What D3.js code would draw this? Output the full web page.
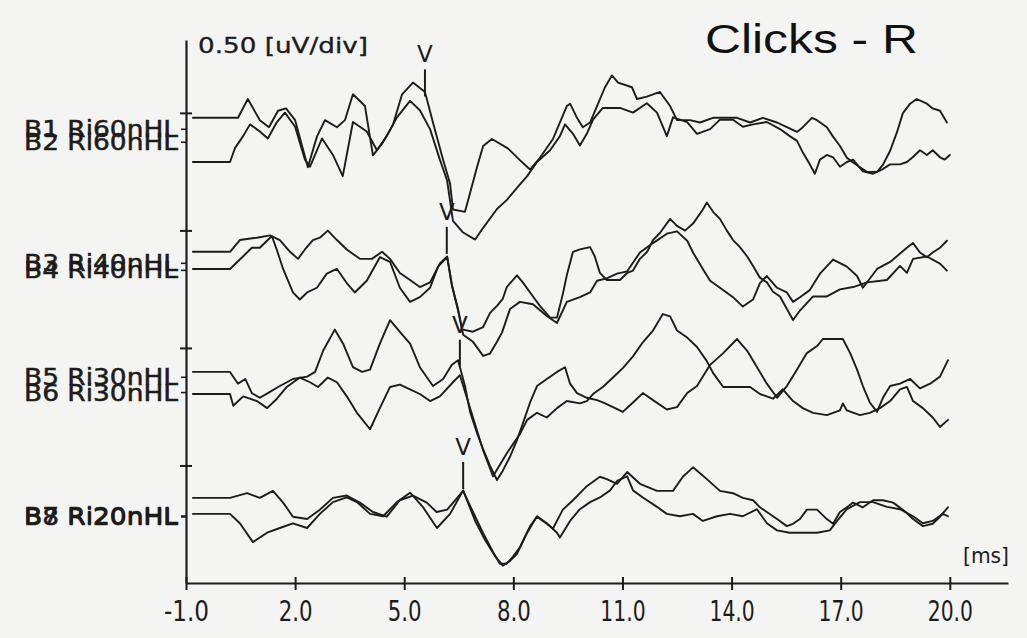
<!DOCTYPE html>
<html><head><meta charset="utf-8">
<script src="https://cdn.jsdelivr.net/npm/d3@7"></script>
<style>
html,body{margin:0;padding:0;background:#f4f4f3;}
svg{display:block;}
</style></head><body>
<svg id="chart" width="1027" height="638"></svg>
<script>
// ---------------- DATA ----------------
const traceNames = ["B1 Ri60nHL","B2 Ri60nHL","B3 Ri40nHL","B4 Ri40nHL","B5 Ri30nHL","B6 Ri30nHL","B7 Ri20nHL","B8 Ri20nHL"];
// baseline (offset) of each trace on the stacked amplitude axis, µV
const baselines = [1.979, 1.791, 1.409, 1.336, 0.898, 0.804, 0.362, 0.294];
const xTickValues = [-1, 2, 5, 8, 11, 14, 17, 20];
const xTickLabels = ["-1.0","2.0","5.0","8.0","11.0","14.0","17.0","20.0"];
const yTickValues = [0.5, 1.0, 1.5, 2.0];
const scaleLabel = "0.50 [uV/div]";
const xUnitLabel = "[ms]";
const titleText = "Clicks - R";
// wave V markers: latency (ms) and stacked amplitude (µV) at the mark
const vLabels = ["V","V","V","V"];
const vLatency = [5.57, 6.17, 6.53, 6.62];
const vAmplitude = [2.07, 1.40, 0.92, 0.40];

// traces: [time ms, amplitude µV relative to baseline]
const b1 = [[-0.81,0],[0.43,0],[0.70,0.08],[1.03,-0.01],[1.28,-0.04],[1.53,0.03],[1.75,0.04],[2.00,-0.01],[2.35,-0.21],[2.60,-0.08],[2.82,-0.01],[3.15,-0.04],[3.37,-0.01],[3.59,0.10],[3.92,0.05],[4.14,-0.16],[4.39,-0.11],[4.69,-0.03],[4.94,0.10],[5.24,0.15],[5.57,0.11],[5.79,-0.02],[6.07,-0.18],[6.26,-0.28],[6.34,-0.39],[6.67,-0.40],[6.81,-0.32],[7.00,-0.21],[7.17,-0.12],[7.41,-0.09],[7.85,-0.13],[8.18,-0.18],[8.46,-0.22],[8.73,-0.17],[9.09,-0.09],[9.47,0.05],[9.56,0.06],[9.75,0.00],[9.91,-0.04],[10.11,-0.02],[10.30,0.05],[10.52,0.13],[10.71,0.18],[10.88,0.15],[11.26,0.13],[11.40,0.08],[11.67,0.09],[12.03,0.11],[12.31,0.05],[12.50,-0.01],[12.86,-0.01],[13.13,-0.02],[13.49,0.00],[13.88,0.00],[14.15,0.00],[14.51,-0.02],[14.86,0.00],[15.25,-0.02],[15.52,-0.04],[15.80,-0.06],[15.96,-0.04],[16.21,0.00],[16.35,-0.01],[16.62,-0.04],[16.79,-0.08],[16.98,-0.12],[17.17,-0.17],[17.34,-0.19],[17.53,-0.21],[17.72,-0.23],[18.00,-0.23],[18.16,-0.20],[18.36,-0.14],[18.55,-0.06],[18.71,0.02],[18.91,0.06],[19.09,0.08],[19.37,0.06],[19.53,0.04],[19.73,0.03],[19.92,-0.02]];
const b2 = [[-0.81,0],[0.21,0],[0.35,0.06],[0.57,0.11],[0.76,0.16],[1.03,0.13],[1.25,0.10],[1.50,0.17],[1.72,0.21],[2.00,0.15],[2.27,0.01],[2.41,-0.02],[2.74,0.10],[3.04,0.03],[3.31,-0.06],[3.59,0.17],[3.97,0.13],[4.25,0.05],[4.52,0.11],[4.80,0.19],[5.16,0.26],[5.43,0.22],[5.71,0.14],[5.98,0.01],[6.18,-0.08],[6.34,-0.25],[6.62,-0.30],[6.95,-0.33],[7.17,-0.28],[7.55,-0.20],[7.83,-0.16],[8.10,-0.11],[8.38,-0.06],[8.65,0.00],[9.01,0.05],[9.28,0.11],[9.42,0.16],[9.64,0.12],[9.83,0.07],[10.02,0.12],[10.19,0.18],[10.46,0.23],[10.93,0.23],[11.29,0.21],[11.67,0.25],[11.95,0.21],[12.22,0.11],[12.39,0.19],[12.78,0.17],[13.05,0.12],[13.41,0.14],[13.68,0.18],[14.04,0.18],[14.31,0.15],[14.59,0.16],[14.97,0.17],[15.33,0.14],[15.60,0.11],[15.80,0.09],[15.96,0.04],[16.15,-0.01],[16.29,-0.05],[16.43,0.01],[16.62,0.03],[16.79,0.02],[16.98,-0.02],[17.17,0.00],[17.34,0.01],[17.61,-0.04],[17.89,-0.05],[18.16,-0.03],[18.36,-0.01],[18.63,-0.01],[18.82,0.00],[18.98,0.02],[19.18,0.05],[19.37,0.03],[19.53,0.05],[19.73,0.02],[19.86,0.01],[20.00,0.03]];
const b3 = [[-0.81,0],[0.21,0],[0.48,0.05],[0.95,0.06],[1.31,0.07],[1.58,0.05],[1.86,0.00],[2.08,-0.03],[2.27,0.01],[2.49,0.05],[2.68,0.06],[2.90,0.09],[3.15,0.05],[3.42,0.01],[3.78,-0.03],[4.11,-0.03],[4.39,0.00],[4.61,-0.03],[4.88,-0.09],[5.16,-0.12],[5.43,-0.15],[5.71,-0.13],[5.98,-0.05],[6.18,-0.02],[6.31,-0.14],[6.48,-0.25],[6.59,-0.33],[6.89,-0.34],[7.17,-0.32],[7.36,-0.26],[7.55,-0.23],[7.71,-0.20],[7.82,-0.15],[8.10,-0.10],[8.26,-0.13],[8.54,-0.19],[8.73,-0.23],[9.01,-0.28],[9.20,-0.28],[9.36,-0.18],[9.47,-0.10],[9.64,0.00],[9.83,0.01],[10.11,0.02],[10.24,-0.02],[10.38,-0.09],[10.57,-0.12],[10.93,-0.12],[11.13,-0.09],[11.29,-0.08],[11.48,-0.03],[11.68,0.00],[11.84,0.05],[12.03,0.08],[12.31,0.14],[12.50,0.11],[12.72,0.09],[12.94,0.12],[13.21,0.18],[13.32,0.21],[13.49,0.17],[13.68,0.14],[13.87,0.09],[14.04,0.05],[14.23,0.02],[14.43,-0.02],[14.59,-0.06],[14.78,-0.11],[14.97,-0.13],[15.14,-0.17],[15.33,-0.19],[15.69,-0.29],[15.88,-0.25],[16.24,-0.19],[16.62,-0.19],[16.98,-0.16],[17.34,-0.15],[17.73,-0.13],[18.27,-0.12],[18.63,-0.06],[18.82,-0.09],[18.99,-0.03],[19.37,-0.02],[19.73,-0.05],[19.92,-0.08]];
const b4 = [[-0.81,0],[0.21,0],[0.48,0.04],[0.81,0.09],[1.03,0.09],[1.36,0.14],[1.50,0.08],[1.67,0.00],[1.94,-0.10],[2.13,-0.13],[2.33,-0.10],[2.60,-0.08],[2.87,-0.02],[3.15,0.00],[3.42,-0.06],[3.64,-0.10],[3.97,-0.05],[4.33,0.05],[4.61,0.03],[4.88,-0.08],[5.16,-0.14],[5.43,-0.12],[5.71,-0.08],[5.93,0.01],[6.18,0.05],[6.31,-0.07],[6.48,-0.17],[6.62,-0.28],[6.89,-0.31],[7.17,-0.37],[7.36,-0.36],[7.55,-0.31],[7.69,-0.27],[7.91,-0.17],[8.18,-0.14],[8.54,-0.15],[8.92,-0.20],[9.20,-0.23],[9.47,-0.14],[9.83,-0.12],[10.11,-0.10],[10.30,-0.05],[10.57,-0.04],[10.85,-0.02],[11.13,-0.01],[11.48,0.07],[11.84,0.11],[12.22,0.15],[12.50,0.16],[12.78,0.12],[12.94,0.07],[13.21,0.00],[13.41,-0.05],[13.68,-0.08],[14.04,-0.12],[14.31,-0.16],[14.59,-0.13],[14.78,-0.06],[14.97,-0.03],[15.25,-0.08],[15.52,-0.10],[15.69,-0.14],[15.88,-0.12],[16.15,-0.09],[16.43,-0.02],[16.79,0.04],[17.17,0.01],[17.45,-0.03],[17.61,-0.08],[18.00,0.00],[18.36,0.03],[18.82,0.09],[18.99,0.11],[19.18,0.07],[19.37,0.05],[19.53,0.07],[19.73,0.09],[19.92,0.12]];
const b5 = [[-0.81,0],[0.21,0],[0.43,-0.05],[0.63,-0.03],[0.81,-0.09],[1.03,-0.11],[1.25,-0.09],[1.58,-0.06],[1.94,-0.03],[2.33,-0.02],[2.55,0.00],[2.77,0.09],[3.09,0.18],[3.32,0.12],[3.59,0.02],[3.84,0.00],[4.06,0.01],[4.33,0.12],[4.61,0.22],[4.88,0.17],[5.16,0.12],[5.43,0.02],[5.79,-0.06],[6.07,-0.03],[6.31,0.03],[6.48,0.05],[6.67,-0.06],[6.81,-0.17],[7.00,-0.26],[7.17,-0.33],[7.36,-0.40],[7.55,-0.46],[7.71,-0.42],[7.91,-0.36],[8.10,-0.29],[8.26,-0.22],[8.46,-0.13],[8.65,-0.06],[8.92,-0.03],[9.20,0.00],[9.42,0.02],[9.56,-0.05],[9.75,-0.09],[10.02,-0.11],[10.30,-0.12],[10.46,-0.13],[10.74,-0.15],[11.01,-0.17],[11.29,-0.13],[11.56,-0.09],[11.84,-0.12],[12.22,-0.16],[12.50,-0.15],[12.78,-0.09],[13.05,-0.06],[13.41,0.03],[13.77,0.08],[14.15,0.14],[14.43,0.09],[14.70,0.02],[14.97,-0.05],[15.25,-0.11],[15.52,-0.06],[15.80,0.01],[16.07,0.08],[16.35,0.11],[16.51,0.14],[16.79,0.14],[17.06,0.14],[17.26,0.08],[17.45,0.01],[17.61,-0.06],[17.80,-0.13],[18.00,-0.17],[18.16,-0.11],[18.36,-0.06],[18.63,-0.05],[18.91,-0.03],[19.18,-0.07],[19.46,-0.05],[19.73,-0.02],[19.95,0.05]];
const b6 = [[-0.81,0],[0.21,0],[0.30,-0.05],[0.57,-0.01],[0.95,-0.03],[1.23,-0.06],[1.50,-0.02],[1.77,0.03],[2.13,0.07],[2.41,0.05],[2.63,0.03],[2.90,0.07],[3.15,0.05],[3.42,-0.01],[3.70,-0.08],[4.06,-0.15],[4.33,-0.06],[4.61,0.03],[4.88,0.04],[5.16,0.02],[5.43,0.00],[5.71,-0.03],[5.98,-0.01],[6.34,0.05],[6.53,0.08],[6.75,-0.03],[6.95,-0.13],[7.17,-0.24],[7.44,-0.35],[7.83,-0.25],[8.18,-0.17],[8.38,-0.11],[8.65,-0.08],[8.92,-0.10],[9.20,-0.06],[9.47,-0.03],[9.83,-0.04],[10.02,-0.03],[10.19,0.00],[10.46,0.03],[10.74,0.07],[11.01,0.11],[11.29,0.16],[11.56,0.22],[11.84,0.27],[12.11,0.34],[12.31,0.33],[12.50,0.27],[12.78,0.24],[13.05,0.20],[13.32,0.14],[13.49,0.09],[13.77,0.03],[14.15,0.03],[14.51,0.03],[14.78,0.00],[15.14,-0.02],[15.41,0.02],[15.69,-0.03],[15.96,-0.06],[16.24,-0.08],[16.62,-0.09],[16.98,-0.07],[17.06,-0.04],[17.17,-0.07],[17.53,-0.09],[17.80,-0.08],[18.08,-0.06],[18.36,-0.03],[18.63,0.02],[18.82,0.03],[18.99,-0.03],[19.26,-0.06],[19.53,-0.10],[19.73,-0.14],[19.95,-0.11]];
const b7 = [[-0.81,0],[0.21,0],[0.68,0.02],[1.03,0.00],[1.39,0.03],[1.67,-0.02],[1.94,-0.08],[2.33,-0.09],[2.68,-0.05],[3.04,0.00],[3.42,0.01],[3.78,-0.02],[4.14,-0.06],[4.52,-0.08],[4.88,-0.01],[5.24,0.01],[5.62,-0.02],[5.89,-0.06],[6.18,-0.05],[6.62,0.03],[6.89,-0.06],[7.17,-0.15],[7.44,-0.23],[7.63,-0.28],[7.82,-0.28],[7.99,-0.25],[8.18,-0.21],[8.46,-0.12],[8.65,-0.08],[8.92,-0.11],[9.09,-0.13],[9.36,-0.05],[9.64,-0.01],[10.02,0.05],[10.38,0.09],[10.57,0.08],[10.85,0.06],[11.13,0.11],[11.48,0.06],[11.95,0.03],[12.39,0.03],[12.66,0.09],[12.94,0.13],[13.32,0.08],[13.68,0.03],[14.04,0.02],[14.31,0.00],[14.59,-0.01],[14.78,-0.04],[14.97,-0.06],[15.25,-0.09],[15.52,-0.12],[15.69,-0.11],[15.88,-0.09],[16.07,-0.05],[16.35,-0.05],[16.62,-0.09],[16.79,-0.11],[16.98,-0.06],[17.17,-0.04],[17.34,-0.02],[17.61,-0.04],[17.89,-0.01],[18.16,-0.01],[18.44,-0.02],[18.71,-0.05],[18.99,-0.09],[19.26,-0.12],[19.53,-0.11],[19.73,-0.08],[19.95,-0.04]];
const b8 = [[-0.81,0],[0.21,0],[0.48,-0.04],[0.84,-0.12],[1.23,-0.08],[1.58,-0.06],[1.94,-0.04],[2.33,-0.06],[2.68,0.00],[3.04,0.05],[3.42,0.07],[3.70,0.05],[4.06,0.00],[4.42,-0.01],[4.80,0.05],[5.16,0.09],[5.51,0.03],[5.90,-0.06],[6.26,0.00],[6.62,0.10],[6.95,-0.03],[7.22,-0.11],[7.50,-0.18],[7.71,-0.22],[7.91,-0.20],[8.10,-0.17],[8.38,-0.08],[8.65,-0.01],[8.92,-0.04],[9.20,-0.08],[9.28,-0.10],[9.56,-0.03],[9.83,0.02],[10.11,0.05],[10.38,0.07],[10.66,0.10],[10.85,0.14],[11.13,0.16],[11.29,0.10],[11.56,0.07],[11.95,0.03],[12.22,0.00],[12.58,-0.01],[12.94,0.00],[13.21,-0.03],[13.60,-0.01],[13.96,0.00],[14.31,-0.01],[14.70,0.02],[14.97,-0.04],[15.25,-0.07],[15.60,-0.08],[15.96,-0.08],[16.35,-0.08],[16.70,-0.07],[16.90,-0.03],[17.17,0.02],[17.53,0.05],[17.89,0.05],[18.27,0.03],[18.63,0.02],[18.99,-0.01],[19.26,-0.04],[19.53,-0.03],[19.81,0.00],[19.95,-0.01]];
const traces = [b1,b2,b3,b4,b5,b6,b7,b8];

// ---------------- LAYOUT ----------------
const W = 1027, H = 638;
const labelLevels = [1.93, 1.875, 1.36, 1.33, 0.875, 0.81, 0.285, 0.281]; // label anchor on amplitude axis
const ink = "#1c1c1c";

const svg = d3.select("#chart");
svg.append("rect").attr("width", W).attr("height", H).attr("fill", "#f4f4f3");

const x = d3.scaleLinear().domain([-1, 21.6]).range([186, 1008]);
const y = d3.scaleLinear().domain([0, 2.31]).range([583, 40]);

// X axis
const xAxis = d3.axisBottom(x).tickValues(xTickValues).tickSize(0).tickFormat("");
const gx = svg.append("g").attr("transform", `translate(0,${y(0)})`).call(xAxis);
gx.select(".domain").attr("stroke", ink).attr("stroke-width", 2.2);
gx.selectAll(".tick").append("line").attr("y1", -6).attr("y2", 7).attr("stroke", ink).attr("stroke-width", 2);
gx.selectAll(".tick").append("text")
  .text((d, i) => xTickLabels[i])
  .attr("y", 38).attr("fill", ink)
  .attr("text-anchor", "middle")
  .attr("font-family", "DejaVu Sans Condensed, DejaVu Sans, sans-serif")
  .attr("font-size", 29)
  .attr("textLength", (d, i) => xTickLabels[i].length * 11.3)
  .attr("lengthAdjust", "spacingAndGlyphs");

// Y axis
const yAxis = d3.axisLeft(y).tickValues(yTickValues).tickSize(0).tickFormat("");
const gy = svg.append("g").attr("transform", `translate(${x(-1)},0)`).call(yAxis);
gy.select(".domain").attr("stroke", ink).attr("stroke-width", 2.2);
gy.selectAll(".tick").append("line").attr("x1", -6).attr("x2", 6).attr("stroke", ink).attr("stroke-width", 2);

// trace labels with small ticks at the axis (overlapping pairs as in the original printout)
const labelG = svg.append("g");
traceNames.forEach((name, i) => {
  const ly = y(labelLevels[i]);
  labelG.append("line").attr("x1", x(-1) - 5).attr("x2", x(-1)).attr("y1", ly).attr("y2", ly)
    .attr("stroke", ink).attr("stroke-width", 1.6);
  labelG.append("text").text(name)
    .attr("x", x(-1) - 8).attr("y", ly + 8)
    .attr("text-anchor", "end")
    .attr("font-family", "DejaVu Sans, sans-serif")
    .attr("font-size", 23)
    .attr("textLength", 154).attr("lengthAdjust", "spacingAndGlyphs")
    .attr("fill", ink).attr("stroke", ink).attr("stroke-width", 0.5);
});

// scale label
svg.append("text").text(scaleLabel)
  .attr("x", 198).attr("y", 53)
  .attr("font-family", "DejaVu Sans, sans-serif").attr("font-size", 22)
  .attr("textLength", 170).attr("lengthAdjust", "spacingAndGlyphs")
  .attr("fill", ink).attr("stroke", ink).attr("stroke-width", 0.35);

// title
svg.append("text").text(titleText)
  .attr("x", 705).attr("y", 53)
  .attr("font-family", "Liberation Sans, Arial, sans-serif").attr("font-size", 41)
  .attr("textLength", 213).attr("lengthAdjust", "spacingAndGlyphs")
  .attr("fill", "#111");

// unit label
svg.append("text").text(xUnitLabel)
  .attr("x", 963).attr("y", 563)
  .attr("font-family", "DejaVu Sans Condensed, DejaVu Sans, sans-serif").attr("font-size", 22)
  .attr("textLength", 46).attr("lengthAdjust", "spacingAndGlyphs")
  .attr("fill", ink);

// traces
const line = d3.line()
  .x(d => x(d[0]))
  .curve(d3.curveLinear);
const traceG = svg.append("g");
traces.forEach((tr, i) => {
  traceG.append("path")
    .datum(tr)
    .attr("d", line.y(d => y(baselines[i] + d[1])))
    .attr("fill", "none")
    .attr("stroke", ink)
    .attr("stroke-width", 1.9)
    .attr("stroke-linejoin", "round")
    .attr("stroke-linecap", "round");
});

// V markers
const vG = svg.append("g");
vLatency.forEach((lat, i) => {
  const px = x(lat);
  const yb = y(vAmplitude[i]);
  const yt = y(vAmplitude[i] + 0.115);
  vG.append("line").attr("x1", px).attr("x2", px).attr("y1", yb).attr("y2", yt)
    .attr("stroke", ink).attr("stroke-width", 2);
  vG.append("text").text(vLabels[i])
    .attr("x", px).attr("y", yt - 7)
    .attr("text-anchor", "middle")
    .attr("font-family", "DejaVu Sans, sans-serif").attr("font-size", 23)
    .attr("fill", ink);
});
</script>
</body></html>
